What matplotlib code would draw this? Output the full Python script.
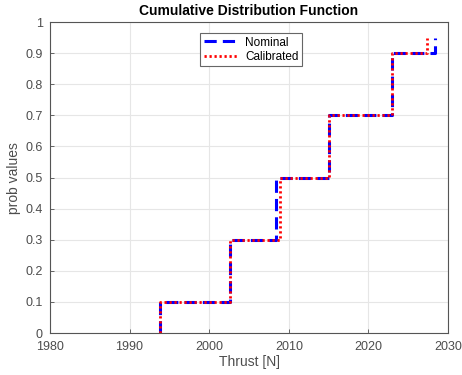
import matplotlib
matplotlib.use("Agg")
import matplotlib.pyplot as plt
import numpy as np

plt.rcParams['font.family'] = ['Liberation Sans', 'DejaVu Sans']

# data
nominal_x = [1993.8, 1993.8, 2002.6, 2008.4, 2015.1, 2022.9, 2028.4, 2028.4]
nominal_y = [0.0, 0.1, 0.3, 0.5, 0.7, 0.9, 0.95, 0.95]
calib_x = [1993.8, 1993.8, 2002.6, 2008.9, 2015.1, 2022.9, 2027.3, 2027.3]
calib_y = [0.0, 0.1, 0.3, 0.5, 0.7, 0.9, 0.95, 0.95]
xticks = [1980, 1990, 2000, 2010, 2020, 2030]
yticks = [0, 0.1, 0.2, 0.3, 0.4, 0.5, 0.6, 0.7, 0.8, 0.9, 1]

fig = plt.figure(figsize=(4.62, 3.75), dpi=100)
ax = fig.add_axes([0.108, 0.112, 0.862, 0.829])

ax.step(nominal_x, nominal_y, where='post', color='#0000ff', lw=2.2,
        linestyle=(0, (4, 2)), label='Nominal')
ax.step(calib_x, calib_y, where='post', color='#ff0000', lw=2.0,
        linestyle=(0, (0.8, 1.0)), label='Calibrated')

ax.set_xlim(1980, 2030)
ax.set_ylim(0, 1)
ax.set_xticks(xticks)
ax.set_yticks(yticks)
ax.set_yticklabels(['0', '0.1', '0.2', '0.3', '0.4', '0.5', '0.6', '0.7', '0.8', '0.9', '1'])
ax.grid(True, color='#e6e6e6', lw=0.8)
ax.set_axisbelow(True)
ax.tick_params(direction='in', length=3, labelsize=9, colors='#4d4d4d', width=0.6)
ax.tick_params(axis='x', pad=6)
ax.tick_params(axis='y', pad=5)
for s in ax.spines.values():
    s.set_color('#555555')
    s.set_linewidth(0.8)

ax.set_title('Cumulative Distribution Function', fontsize=10, fontweight='bold', pad=5)
ax.set_xlabel('Thrust [N]', fontsize=10, color='#4d4d4d', labelpad=1)
ax.set_ylabel('prob values', fontsize=10, color='#4d4d4d', labelpad=3)

leg = ax.legend(loc='upper left', bbox_to_anchor=(0.377, 0.965), fontsize=8.5,
                fancybox=False, framealpha=1, edgecolor='#666666', borderaxespad=0,
                handlelength=3.0, borderpad=0.3, labelspacing=0.2, handletextpad=0.5)
leg.get_frame().set_linewidth(0.8)

fig.savefig('out.png', dpi=100)
